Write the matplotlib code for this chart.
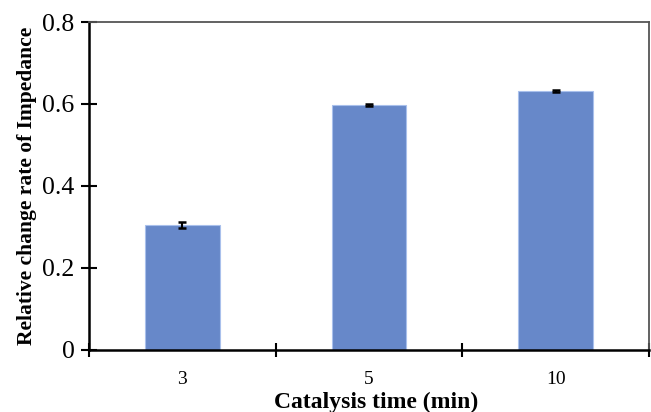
import matplotlib
matplotlib.use("Agg")
import matplotlib.pyplot as plt
import numpy as np

categories = ["3", "5", "10"]
values = [0.305, 0.597, 0.631]
errors = [0.008, 0.002, 0.002]
yticks = [0, 0.2, 0.4, 0.6, 0.8]
ytick_labels = ["0", "0.2", "0.4", "0.6", "0.8"]

plt.rcParams["font.family"] = ["Liberation Serif", "DejaVu Serif"]

fig = plt.figure(figsize=(6.51, 4.12), dpi=100)
ax = fig.add_axes([0.1367, 0.1505, 0.8603, 0.7961])

x = np.arange(len(categories))
ax.bar(x, values, width=0.40, color="#6788C9", edgecolor="#A9C0EC", linewidth=0.8, zorder=2)
ax.errorbar(x, values, yerr=errors, fmt="none", ecolor="black", elinewidth=1.5,
            capsize=3.2, capthick=1.8, zorder=3)

ax.set_xlim(-0.5, len(categories) - 0.5)
ax.set_ylim(0, 0.8)

ax.set_yticks(yticks)
ax.set_yticklabels(ytick_labels, fontsize=18.5)
ax.set_xticks(x)
ax.set_xticklabels(categories, fontsize=14)
ax.tick_params(axis="x", which="major", length=0, pad=15)
ax.set_xticks(np.arange(-0.5, len(categories)), minor=True)
ax.tick_params(axis="x", which="minor", direction="inout", length=10, width=1.5, color="black")
ax.tick_params(axis="y", direction="inout", length=11, width=1.5, color="black", pad=5)

for side in ["left", "bottom"]:
    ax.spines[side].set_linewidth(1.8)
    ax.spines[side].set_color("black")
for side in ["top", "right"]:
    ax.spines[side].set_linewidth(1.3)
    ax.spines[side].set_color("#555555")

ax.set_xlabel("Catalysis time (min)", fontsize=17, fontweight="bold", labelpad=3, x=0.512)
ax.set_ylabel("Relative change rate of Impedance", fontsize=15.5, fontweight="bold", labelpad=4)

fig.savefig("out.png", dpi=100)
